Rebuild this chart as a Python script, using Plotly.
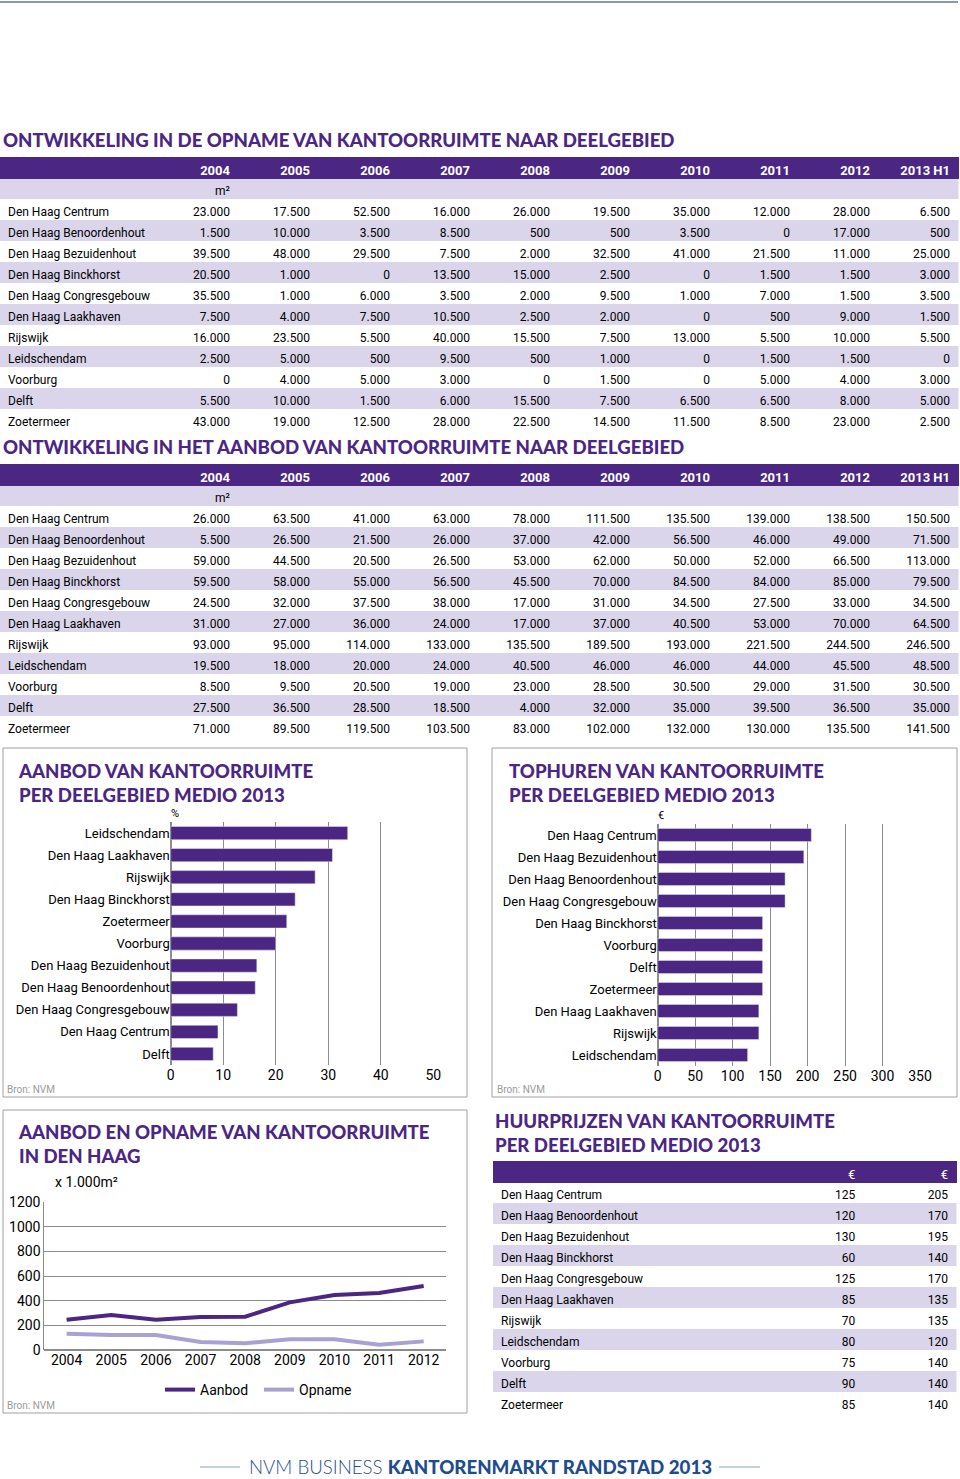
import plotly.graph_objects as go

W, H = 960, 1479
PURPLE = "#4b2683"
LAV = "#dad5ea"
LIGHTLINE = "#a9a1d2"
NARROW = "Roboto, sans-serif"
HEAVY = "Lato, Open Sans, sans-serif"

# ---------------- data ----------------
years = ["2004", "2005", "2006", "2007", "2008", "2009", "2010", "2011", "2012", "2013 H1"]
regions = ["Den Haag Centrum", "Den Haag Benoordenhout", "Den Haag Bezuidenhout",
           "Den Haag Binckhorst", "Den Haag Congresgebouw", "Den Haag Laakhaven",
           "Rijswijk", "Leidschendam", "Voorburg", "Delft", "Zoetermeer"]

opname = [
    [23000, 17500, 52500, 16000, 26000, 19500, 35000, 12000, 28000, 6500],
    [1500, 10000, 3500, 8500, 500, 500, 3500, 0, 17000, 500],
    [39500, 48000, 29500, 7500, 2000, 32500, 41000, 21500, 11000, 25000],
    [20500, 1000, 0, 13500, 15000, 2500, 0, 1500, 1500, 3000],
    [35500, 1000, 6000, 3500, 2000, 9500, 1000, 7000, 1500, 3500],
    [7500, 4000, 7500, 10500, 2500, 2000, 0, 500, 9000, 1500],
    [16000, 23500, 5500, 40000, 15500, 7500, 13000, 5500, 10000, 5500],
    [2500, 5000, 500, 9500, 500, 1000, 0, 1500, 1500, 0],
    [0, 4000, 5000, 3000, 0, 1500, 0, 5000, 4000, 3000],
    [5500, 10000, 1500, 6000, 15500, 7500, 6500, 6500, 8000, 5000],
    [43000, 19000, 12500, 28000, 22500, 14500, 11500, 8500, 23000, 2500],
]

aanbod = [
    [26000, 63500, 41000, 63000, 78000, 111500, 135500, 139000, 138500, 150500],
    [5500, 26500, 21500, 26000, 37000, 42000, 56500, 46000, 49000, 71500],
    [59000, 44500, 20500, 26500, 53000, 62000, 50000, 52000, 66500, 113000],
    [59500, 58000, 55000, 56500, 45500, 70000, 84500, 84000, 85000, 79500],
    [24500, 32000, 37500, 38000, 17000, 31000, 34500, 27500, 33000, 34500],
    [31000, 27000, 36000, 24000, 17000, 37000, 40500, 53000, 70000, 64500],
    [93000, 95000, 114000, 133000, 135500, 189500, 193000, 221500, 244500, 246500],
    [19500, 18000, 20000, 24000, 40500, 46000, 46000, 44000, 45500, 48500],
    [8500, 9500, 20500, 19000, 23000, 28500, 30500, 29000, 31500, 30500],
    [27500, 36500, 28500, 18500, 4000, 32000, 35000, 39500, 36500, 35000],
    [71000, 89500, 119500, 103500, 83000, 102000, 132000, 130000, 135500, 141500],
]

aanbod_pct_regions = ["Leidschendam", "Den Haag Laakhaven", "Rijswijk", "Den Haag Binckhorst",
                      "Zoetermeer", "Voorburg", "Den Haag Bezuidenhout", "Den Haag Benoordenhout",
                      "Den Haag Congresgebouw", "Den Haag Centrum", "Delft"]
aanbod_pct = [33.7, 30.8, 27.5, 23.7, 22.1, 20.0, 16.4, 16.1, 12.7, 9.0, 8.1]

tophuur_regions = ["Den Haag Centrum", "Den Haag Bezuidenhout", "Den Haag Benoordenhout",
                   "Den Haag Congresgebouw", "Den Haag Binckhorst", "Voorburg", "Delft",
                   "Zoetermeer", "Den Haag Laakhaven", "Rijswijk", "Leidschendam"]
tophuur = [205, 195, 170, 170, 140, 140, 140, 140, 135, 135, 120]

line_years = ["2004", "2005", "2006", "2007", "2008", "2009", "2010", "2011", "2012"]
dh_aanbod = [245, 284, 245, 268, 270, 387, 447, 463, 520]
dh_opname = [133, 122, 122, 65, 54, 87, 87, 43, 70]

huur_low = [125, 120, 130, 60, 125, 85, 70, 80, 75, 90, 85]
huur_high = [205, 170, 195, 140, 170, 135, 135, 120, 140, 140, 140]


def py(p):
    return 1 - p / H


def px(p):
    return p / W


def fmt(v):
    return f"{v:,}".replace(",", ".")


def nb(s):
    return s.replace(" ", "\u00a0")


fig = go.Figure()


# ---------------- big tables ----------------
def big_table(data, top, bottom):
    label_col = [""] + [nb(r) for r in regions]
    cols = [label_col]
    for j in range(len(years)):
        col = ["m²" if j == 0 else ""] + [fmt(row[j]) for row in data]
        cols.append(col)
    nrows = len(label_col)
    row_fill = [LAV if i % 2 == 0 else "white" for i in range(nrows)]
    fills = [row_fill] * len(cols)
    fig.add_trace(go.Table(
        domain=dict(x=[0, px(958)], y=[py(bottom), py(top)]),
        columnwidth=[158] + [80] * len(years),
        header=dict(values=[""] + [nb(y) for y in years],
                    fill_color=PURPLE, line_color=PURPLE, height=21,
                    align=["left"] + ["right"] * len(years),
                    font=dict(family=NARROW, size=13, color="white", weight="bold")),
        cells=dict(values=cols, fill_color=fills, line=dict(color=fills, width=0.5), height=21,
                   align=["left"] + ["right"] * len(years),
                   font=dict(family=NARROW, size=12, color="black")),
    ))


big_table(opname, 157, 440)
big_table(aanbod, 464, 745)

# ---------------- huurprijzen table ----------------
nr = len(regions)
hfill = ["white" if i % 2 == 0 else LAV for i in range(nr)]
fig.add_trace(go.Table(
    domain=dict(x=[px(493), px(957)], y=[py(1425), py(1161)]),
    columnwidth=[271, 100, 93],
    header=dict(values=["", "€", "€"], fill_color=PURPLE, line_color=PURPLE, height=21,
                align=["left", "right", "right"],
                font=dict(family=NARROW, size=13, color="white")),
    cells=dict(values=[[nb(r) for r in regions], huur_low, huur_high], fill_color=[hfill] * 3,
               line=dict(color=[hfill] * 3, width=0.5), height=21,
               align=["left", "right", "right"],
               font=dict(family=NARROW, size=12, color="black")),
))

# ---------------- bar chart 1 ----------------
fig.add_trace(go.Bar(x=aanbod_pct, y=aanbod_pct_regions, orientation="h",
                     marker_color=PURPLE, showlegend=False, xaxis="x", yaxis="y",
                     width=0.6))
# ---------------- bar chart 2 ----------------
fig.add_trace(go.Bar(x=tophuur, y=tophuur_regions, orientation="h",
                     marker_color=PURPLE, showlegend=False, xaxis="x2", yaxis="y2",
                     width=0.6))
# ---------------- line chart ----------------
fig.add_trace(go.Scatter(x=line_years, y=dh_aanbod, mode="lines", name="Aanbod",
                         line=dict(color=PURPLE, width=4), xaxis="x3", yaxis="y3"))
fig.add_trace(go.Scatter(x=line_years, y=dh_opname, mode="lines", name="Opname",
                         line=dict(color=LIGHTLINE, width=4), xaxis="x3", yaxis="y3"))

tickfont = dict(family=NARROW, size=14, color="black")
catfont = dict(family=NARROW, size=13, color="black")
GRID = "#8c8c8c"

fig.update_layout(
    width=W, height=H, margin=dict(l=0, r=0, t=0, b=0, autoexpand=False),
    paper_bgcolor="white", plot_bgcolor="white",
    bargap=0.4,
    xaxis=dict(domain=[px(170.7), px(433.3)], range=[0, 50], dtick=10, anchor="y",
               showgrid=True, gridcolor=GRID, gridwidth=1, zeroline=True, zerolinecolor=GRID,
               tickfont=tickfont, ticks="", fixedrange=True, automargin=False),
    yaxis=dict(domain=[py(1065), py(822)], anchor="x", autorange="reversed",
               tickfont=catfont, showgrid=False, ticks="", fixedrange=True, automargin=False),
    xaxis2=dict(domain=[px(657.7), px(920)], range=[0, 350], dtick=50, anchor="y2",
                showgrid=True, gridcolor=GRID, gridwidth=1, zeroline=True, zerolinecolor=GRID,
                tickfont=tickfont, ticks="", fixedrange=True, automargin=False),
    yaxis2=dict(domain=[py(1066), py(824)], anchor="x2", autorange="reversed",
                tickfont=catfont, showgrid=False, ticks="", fixedrange=True, automargin=False),
    xaxis3=dict(domain=[px(44.3), px(446)], anchor="y3", type="category", range=[-0.5, 8.5],
                showgrid=False, tickfont=tickfont, ticks="", fixedrange=True, automargin=False),
    yaxis3=dict(domain=[py(1350), py(1202.3)], anchor="x3", range=[0, 1200], dtick=200,
                showgrid=True, gridcolor=GRID, gridwidth=1, zeroline=True, zerolinecolor=GRID,
                showline=True, linecolor=GRID, tickfont=tickfont, ticks="", fixedrange=True,
                automargin=False),
    legend=dict(orientation="h", x=px(160), y=py(1390), xanchor="left", yanchor="middle",
                font=dict(family=NARROW, size=14, color="black"),
                entrywidth=54, bgcolor="rgba(0,0,0,0)"),
)

shapes = [
    dict(type="line", xref="paper", yref="paper", x0=0, x1=px(958), y0=py(2), y1=py(2),
         line=dict(color="#8a9aa8", width=2)),
    dict(type="rect", xref="paper", yref="paper", x0=px(3), x1=px(467), y0=py(1097), y1=py(748),
         line=dict(color="#a0a0a0", width=1)),
    dict(type="rect", xref="paper", yref="paper", x0=px(492), x1=px(957), y0=py(1097), y1=py(748),
         line=dict(color="#a0a0a0", width=1)),
    dict(type="rect", xref="paper", yref="paper", x0=px(3), x1=px(467), y0=py(1413), y1=py(1110),
         line=dict(color="#a0a0a0", width=1)),
    dict(type="line", xref="paper", yref="paper", x0=px(200), x1=px(240), y0=py(1467), y1=py(1467),
         line=dict(color="#8aa0b8", width=1)),
    dict(type="line", xref="paper", yref="paper", x0=px(719), x1=px(760), y0=py(1467), y1=py(1467),
         line=dict(color="#8aa0b8", width=1)),
]
fig.update_layout(shapes=shapes)


def ann(text, x, y, size, color="black", family=NARROW, xanchor="left", weight=None):
    f = dict(family=family, size=size, color=color)
    if weight:
        f["weight"] = weight
    fig.add_annotation(text=text, x=px(x), y=py(y), xref="paper", yref="paper",
                       xanchor=xanchor, yanchor="middle", showarrow=False, font=f, align="left")


TS = 18.6
ann("ONTWIKKELING IN DE OPNAME VAN KANTOORRUIMTE NAAR DEELGEBIED", 1, 140, TS, PURPLE, HEAVY, weight=900)
ann("ONTWIKKELING IN HET AANBOD VAN KANTOORRUIMTE NAAR DEELGEBIED", 1, 447, TS, PURPLE, HEAVY, weight=900)
ann("AANBOD VAN KANTOORRUIMTE<br>PER DEELGEBIED MEDIO 2013", 16, 783, TS, PURPLE, HEAVY, weight=900)
ann("TOPHUREN VAN KANTOORRUIMTE<br>PER DEELGEBIED MEDIO 2013", 507, 783, TS, PURPLE, HEAVY, weight=900)
ann("AANBOD EN OPNAME VAN KANTOORRUIMTE<br>IN DEN HAAG", 16, 1144, TS, PURPLE, HEAVY, weight=900)
ann("HUURPRIJZEN VAN KANTOORRUIMTE<br>PER DEELGEBIED MEDIO 2013", 493, 1133, TS, PURPLE, HEAVY, weight=900)
ann("%", 169, 813, 11)
ann("€", 656, 815, 11)
ann("x 1.000m²", 53, 1182, 14)
ann("Bron: NVM", 5, 1089, 10, "#9a9a9a")
ann("Bron: NVM", 495, 1089, 10, "#9a9a9a")
ann("Bron: NVM", 5, 1405, 10, "#9a9a9a")
ann("NVM BUSINESS <span style='font-weight:900'>KANTORENMARKT RANDSTAD 2013</span>",
    480, 1467, 18.7, "#1e4d8f", HEAVY, xanchor="center", weight=300)

fig.write_html("out.html",
               config={"displayModeBar": False},
               post_script="document.body.style.margin='0px';document.body.style.padding='0px';"
                           "document.body.style.overflow='hidden';")
